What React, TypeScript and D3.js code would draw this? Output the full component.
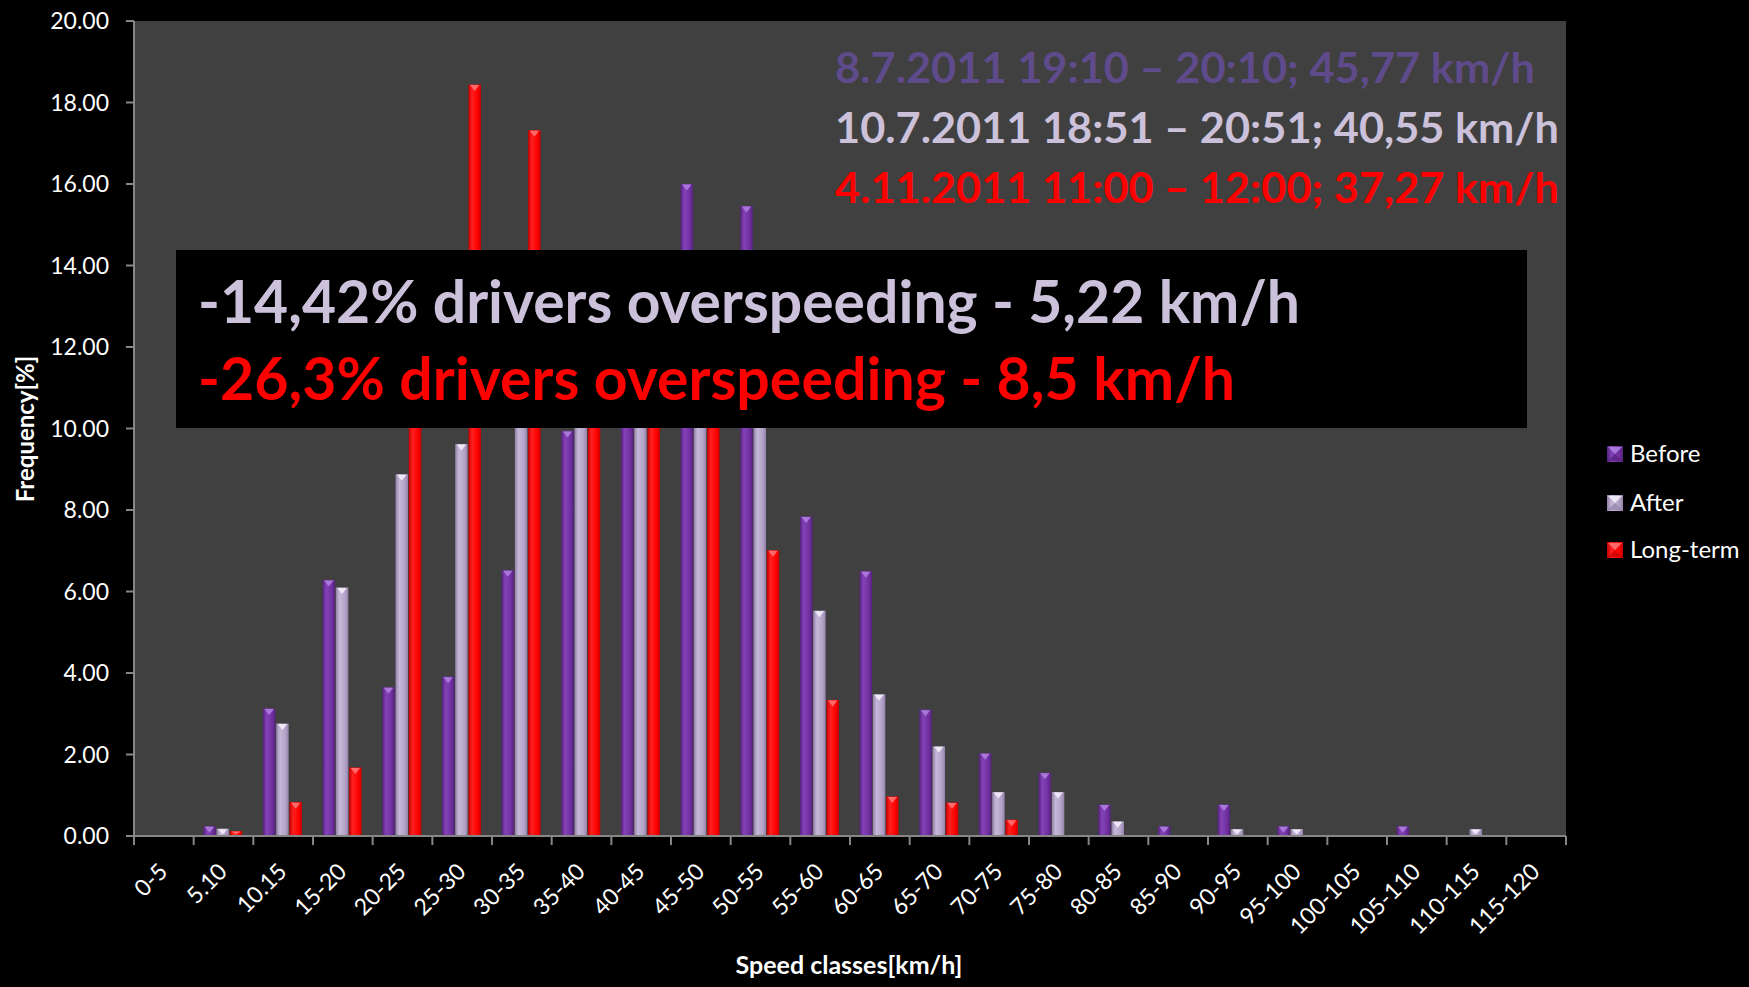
import React, { useEffect, useRef } from "react";
import * as d3 from "d3";

const categories = [
  "0-5", "5.10", "10.15", "15-20", "20-25", "25-30", "30-35", "35-40",
  "40-45", "45-50", "50-55", "55-60", "60-65", "65-70", "70-75", "75-80",
  "80-85", "85-90", "90-95", "95-100", "100-105", "105-110", "110-115", "115-120",
];
const before = [0, 0.24, 3.13, 6.28, 3.65, 3.91, 6.52, 9.94, 11.8, 16.0, 15.46, 7.84, 6.5, 3.1, 2.03, 1.55, 0.77, 0.24, 0.77, 0.24, 0, 0.24, 0, 0];
const after = [0, 0.18, 2.76, 6.1, 8.88, 9.62, 10.6, 12.4, 13.4, 11.6, 10.2, 5.53, 3.48, 2.2, 1.08, 1.08, 0.36, 0, 0.17, 0.17, 0, 0, 0.17, 0];
const longTerm = [0, 0.12, 0.83, 1.68, 11.0, 18.44, 17.32, 14.0, 13.4, 10.7, 7.01, 3.34, 0.97, 0.82, 0.4, 0, 0, 0, 0, 0, 0, 0, 0, 0];
const seriesNames = ["Before", "After", "Long-term"];
const yTicks = [0, 2, 4, 6, 8, 10, 12, 14, 16, 18, 20];
const periodLines = [
  "8.7.2011 19:10 – 20:10; 45,77 km/h",
  "10.7.2011 18:51 – 20:51; 40,55 km/h",
  "4.11.2011 11:00 – 12:00; 37,27 km/h",
];
const boxLines = [
  "-14,42% drivers overspeeding - 5,22 km/h",
  "-26,3% drivers overspeeding - 8,5 km/h",
];

const FONT = "Lato, 'Open Sans', sans-serif";
const palette = [
  { base: "#7030a0", dark: "#55217d", light: "#8442b8", cap: "#b083e0" },
  { base: "#b3a2c7", dark: "#9381a9", light: "#c6b8d8", cap: "#f6f2fb" },
  { base: "#ff0000", dark: "#c40000", light: "#ff2020", cap: "#ff7878" },
];

export default function App() {
  const svgRef = useRef<SVGSVGElement>(null);

  useEffect(() => {
    const svg = d3.select(svgRef.current);
    svg.selectAll("*").remove();

    const width = 1749;
    const height = 987;
    const plot = { left: 134, right: 1566, top: 21, bottom: 836 };

    svg.append("rect").attr("width", width).attr("height", height).attr("fill", "#000");

    const defs = svg.append("defs");
    palette.forEach((c, i) => {
      const g = defs.append("linearGradient").attr("id", `grad${i}`).attr("x1", "0").attr("x2", "1").attr("y1", "0").attr("y2", "0");
      g.append("stop").attr("offset", "0%").attr("stop-color", c.dark);
      g.append("stop").attr("offset", "30%").attr("stop-color", c.light);
      g.append("stop").attr("offset", "75%").attr("stop-color", c.base);
      g.append("stop").attr("offset", "100%").attr("stop-color", c.dark);
    });

    svg
      .append("rect")
      .attr("x", plot.left)
      .attr("y", plot.top)
      .attr("width", plot.right - plot.left)
      .attr("height", plot.bottom - plot.top)
      .attr("fill", "#404040");

    const x = d3.scaleBand().domain(categories).range([plot.left, plot.right]).padding(0);
    const inner = d3.scaleBand<number>().domain([0, 1, 2]).range([9.6, 48.6]).paddingInner(0.06);
    const y = d3.scaleLinear().domain([0, 20]).range([plot.bottom, plot.top]);

    const series = [before, after, longTerm];
    const bars = svg.append("g");
    series.forEach((values, s) => {
      values.forEach((v, i) => {
        if (v <= 0) return;
        const bx = (x(categories[i]) as number) + (inner(s) as number);
        const bw = inner.bandwidth();
        const by = y(v);
        const bh = y(0) - y(v);
        bars.append("rect").attr("x", bx).attr("y", by).attr("width", bw).attr("height", bh).attr("fill", `url(#grad${s})`);
        const d = Math.min(6, Math.max(1, bh - 2));
        bars
          .append("polygon")
          .attr("points", `${bx + 1.5},${by + 0.5} ${bx + bw - 1.5},${by + 0.5} ${bx + bw / 2},${by + 0.5 + d}`)
          .attr("fill", palette[s].cap)
          .attr("opacity", 0.85);
      });
    });

    // axes
    const axisColor = "#868686";
    const axes = svg.append("g").attr("stroke", axisColor).attr("stroke-width", 2);
    axes.append("line").attr("x1", plot.left).attr("x2", plot.left).attr("y1", plot.top).attr("y2", plot.bottom);
    axes.append("line").attr("x1", plot.left - 8).attr("x2", plot.right).attr("y1", plot.bottom).attr("y2", plot.bottom);
    yTicks.forEach((t) => {
      axes.append("line").attr("x1", plot.left - 8).attr("x2", plot.left).attr("y1", y(t)).attr("y2", y(t));
    });
    const edges = categories.map((c) => x(c) as number).concat([plot.right]);
    edges.forEach((ex) => {
      axes.append("line").attr("x1", ex).attr("x2", ex).attr("y1", plot.bottom).attr("y2", plot.bottom + 9);
    });

    svg
      .append("g")
      .selectAll("text")
      .data(yTicks)
      .join("text")
      .attr("x", 109)
      .attr("y", (d) => y(d))
      .attr("dy", "0.35em")
      .attr("text-anchor", "end")
      .attr("fill", "#fff")
      .attr("font-family", FONT)
      .attr("font-size", 23)
      .text((d) => d3.format(".2f")(d));

    svg
      .append("g")
      .selectAll("text")
      .data(categories)
      .join("text")
      .attr("transform", (d) => `translate(${(x(d) as number) + x.bandwidth() / 2 + 5},873) rotate(-45)`)
      .attr("text-anchor", "end")
      .attr("fill", "#fff")
      .attr("font-family", FONT)
      .attr("font-size", 23)
      .text((d) => d);

    svg
      .append("text")
      .attr("transform", "translate(34,429) rotate(-90)")
      .attr("text-anchor", "middle")
      .attr("fill", "#fff")
      .attr("font-family", FONT)
      .attr("font-weight", "bold")
      .attr("font-size", 24)
      .text("Frequency[%]");

    svg
      .append("text")
      .attr("x", 849)
      .attr("y", 974)
      .attr("text-anchor", "middle")
      .attr("fill", "#fff")
      .attr("font-family", FONT)
      .attr("font-weight", "bold")
      .attr("font-size", 25)
      .text("Speed classes[km/h]");

    // legend
    const legendY = [454, 503, 550];
    seriesNames.forEach((name, i) => {
      const lg = svg.append("g").attr("transform", `translate(1607,${legendY[i] - 8})`);
      lg.append("rect").attr("width", 16).attr("height", 16).attr("fill", `url(#grad${i})`);
      lg.append("polygon").attr("points", "1,1 15,1 8,8").attr("fill", palette[i].cap).attr("opacity", 0.85);
      lg.append("polygon").attr("points", "1,15 15,15 8,8").attr("fill", palette[i].dark).attr("opacity", 0.7);
      svg
        .append("text")
        .attr("x", 1630)
        .attr("y", legendY[i] + 8)
        .attr("fill", "#fff")
        .attr("font-family", FONT)
        .attr("font-size", 24)
        .text(name);
    });

    // period annotations
    const periodColors = ["#5f4b8b", "#ccc1da", "#ff0000"];
    const periodWidths = [700, 724, 724];
    periodLines.forEach((line, i) => {
      svg
        .append("text")
        .attr("x", 835)
        .attr("y", 83 + i * 60)
        .attr("fill", periodColors[i])
        .attr("font-family", FONT)
        .attr("font-weight", "bold")
        .attr("font-size", 42)
        .attr("textLength", periodWidths[i])
        .attr("lengthAdjust", "spacingAndGlyphs")
        .text(line);
    });

    // overspeeding box
    svg.append("rect").attr("x", 176).attr("y", 250).attr("width", 1351).attr("height", 178).attr("fill", "#000");
    const boxColors = ["#ccc1da", "#ff0000"];
    const boxWidths = [1102, 1037];
    boxLines.forEach((line, i) => {
      svg
        .append("text")
        .attr("x", 198)
        .attr("y", 323 + i * 77)
        .attr("fill", boxColors[i])
        .attr("font-family", FONT)
        .attr("font-weight", "bold")
        .attr("font-size", 60)
        .attr("textLength", boxWidths[i])
        .attr("lengthAdjust", "spacingAndGlyphs")
        .text(line);
    });
  }, []);

  return <svg ref={svgRef} width={1749} height={987} style={{ position: "fixed", left: 0, top: 0 }} />;
}
